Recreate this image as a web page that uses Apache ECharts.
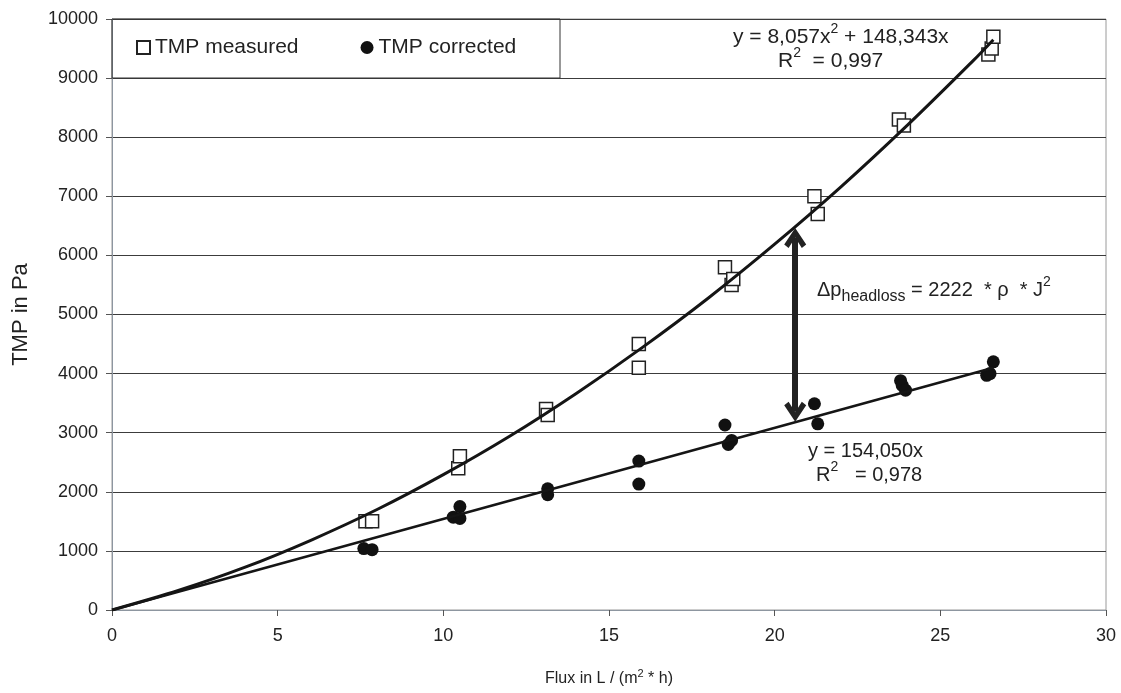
<!DOCTYPE html>
<html>
<head>
<meta charset="utf-8">
<script src="https://cdn.jsdelivr.net/npm/echarts@6/dist/echarts.min.js"></script>
<style>
  html, body { margin: 0; padding: 0; background: #fff; }
  #chart { width: 1121px; height: 693px; }
</style>
</head>
<body>
<div id="chart"></div>
<script>
// measured TMP (hollow squares)
var measuredX = [7.65, 7.85, 10.45, 10.5, 13.1, 13.15, 15.9, 15.9, 18.5, 18.7, 18.75, 21.2, 21.3, 23.75, 23.9, 26.45, 26.55, 26.6];
var measuredY = [1500, 1500, 2400, 2600, 3400, 3300, 4500, 4100, 5800, 5500, 5600, 7000, 6700, 8300, 8200, 9400, 9500, 9700];

// corrected TMP (filled dots)
var correctedX = [7.6, 7.85, 10.3, 10.5, 10.5, 13.15, 13.15, 15.9, 15.9, 18.5, 18.6, 18.7, 21.2, 21.3, 23.8, 23.85, 23.95, 26.4, 26.5, 26.6];
var correctedY = [1040, 1020, 1570, 1550, 1750, 2050, 1950, 2520, 2130, 3130, 2800, 2870, 3490, 3150, 3880, 3800, 3720, 3970, 4000, 4200];

// trend lines
var fitQuadX = [0, 2, 4, 6, 8, 10, 12, 14, 16, 18, 20, 22, 24, 26, 26.6];
var fitQuadY = [0, 330, 720, 1180, 1700, 2290, 2940, 3660, 4440, 5280, 6190, 7160, 8200, 9300, 9650];
var fitLinX = [0, 26.6];
var fitLinY = [0, 4100];

// headloss arrow (centres of the two heads)
var arrowX = 20.62;
var arrowTop = 6295;
var arrowBottom = 3355;

var xTicks = [0, 5, 10, 15, 20, 25, 30];

function zip(xs, ys) {
    var out = [];
    for (var i = 0; i < xs.length; i++) out.push([xs[i], ys[i]]);
    return out;
}

var FONT = 'Liberation Sans, Arial, sans-serif';
var chart = echarts.init(document.getElementById('chart'));

var chevron = 'path://M5,0 L10,7 L8,8.5 L5,4 L2,8.5 L0,7 Z';
var supStyle = { fontSize: 14, lineHeight: 14, verticalAlign: 'top', fill: '#222', fontFamily: FONT };

var option = {
    animation: false,
    textStyle: { fontFamily: FONT },
    grid: {
        left: 112, right: 15, top: 19, bottom: 83,
        outerBoundsMode: 'none',
        show: true, borderColor: '#9a9a9a', borderWidth: 1
    },
    legend: {
        left: 136, top: 37, padding: 0,
        itemWidth: 13, itemHeight: 13, itemGap: 62,
        textStyle: { fontSize: 21, color: '#222', fontFamily: FONT },
        data: ['TMP measured', 'TMP corrected']
    },
    xAxis: {
        type: 'value', min: 0, max: 30, interval: 5,
        name: 'Flux in L / (m{sup|2} * h)',
        nameLocation: 'middle', nameGap: 58,
        nameTextStyle: {
            fontSize: 16, color: '#222', fontFamily: FONT, lineHeight: 22,
            rich: { sup: { fontSize: 11, lineHeight: 11, verticalAlign: 'top', color: '#222' } }
        },
        axisLine: { lineStyle: { color: '#8d96a0', width: 1 } },
        axisTick: { show: true, inside: false, length: 6, lineStyle: { color: '#555' } },
        axisLabel: {
            fontSize: 18, color: '#222', margin: 17,
            formatter: function (v) { return xTicks.indexOf(v) >= 0 ? String(v) : ''; }
        },
        splitLine: { show: false }
    },
    yAxis: {
        type: 'value', min: 0, max: 10000, interval: 1000,
        name: 'TMP in Pa',
        nameLocation: 'middle', nameGap: 80,
        nameTextStyle: { fontSize: 22, color: '#222', fontFamily: FONT },
        axisLine: { show: true, lineStyle: { color: '#8d96a0', width: 1 } },
        axisTick: { show: true, inside: false, length: 6, lineStyle: { color: '#555' } },
        axisLabel: {
            fontSize: 18, color: '#222', margin: 14,
            formatter: function (v) { return String(v); }
        },
        splitLine: { show: true, lineStyle: { color: '#3c3c3c', width: 1 } }
    },
    series: [
        {
            name: 'TMP measured', type: 'scatter',
            symbol: 'rect', symbolSize: 13,
            itemStyle: { color: '#fff', borderColor: '#222', borderWidth: 1.5, opacity: 1 },
            data: zip(measuredX, measuredY), z: 3
        },
        {
            name: 'TMP corrected', type: 'scatter',
            symbol: 'circle', symbolSize: 13,
            itemStyle: { color: '#111', opacity: 1 },
            data: zip(correctedX, correctedY), z: 3
        },
        {
            name: 'fit measured', type: 'line', smooth: 0.3,
            showSymbol: false, symbol: 'none',
            lineStyle: { color: '#151515', width: 3 },
            data: zip(fitQuadX, fitQuadY), z: 4
        },
        {
            name: 'fit corrected', type: 'line',
            showSymbol: false, symbol: 'none',
            lineStyle: { color: '#151515', width: 2.5 },
            data: zip(fitLinX, fitLinY), z: 4,
            markLine: {
                silent: true,
                symbol: [chevron, chevron],
                symbolSize: [22, 20],
                label: { show: false },
                lineStyle: { color: '#222', width: 6, type: 'solid' },
                data: [[{ coord: [arrowX, arrowTop] }, { coord: [arrowX, arrowBottom] }]],
                z: 5
            }
        }
    ],
    graphic: [
        {
            type: 'rect', z: 10, silent: true,
            shape: { x: 112, y: 19, width: 448, height: 59 },
            style: { fill: null, stroke: '#333', lineWidth: 1 }
        },
        {
            type: 'text', z: 10, left: 733, top: 22,
            style: {
                text: 'y = 8,057x{sup|2} + 148,343x',
                font: '21px ' + FONT, fill: '#222', lineHeight: 30,
                rich: { sup: supStyle }
            }
        },
        {
            type: 'text', z: 10, left: 778, top: 46,
            style: {
                text: 'R{sup|2}  = 0,997',
                font: '21px ' + FONT, fill: '#222', lineHeight: 30,
                rich: { sup: supStyle }
            }
        },
        {
            type: 'text', z: 10, left: 817, top: 275,
            style: {
                text: 'Δp{sub|headloss} = 2222  * ρ  * J{sup|2}',
                font: '20px ' + FONT, fill: '#222', lineHeight: 30,
                rich: {
                    sub: { fontSize: 16, lineHeight: 18, verticalAlign: 'bottom', fill: '#222', fontFamily: FONT },
                    sup: supStyle
                }
            }
        },
        {
            type: 'text', z: 10, left: 808, top: 438,
            style: { text: 'y = 154,050x', font: '20px ' + FONT, fill: '#222', lineHeight: 26 }
        },
        {
            type: 'text', z: 10, left: 816, top: 460,
            style: {
                text: 'R{sup|2}   = 0,978',
                font: '20px ' + FONT, fill: '#222', lineHeight: 30,
                rich: { sup: supStyle }
            }
        }
    ]
};

chart.setOption(option);
</script>
</body>
</html>
